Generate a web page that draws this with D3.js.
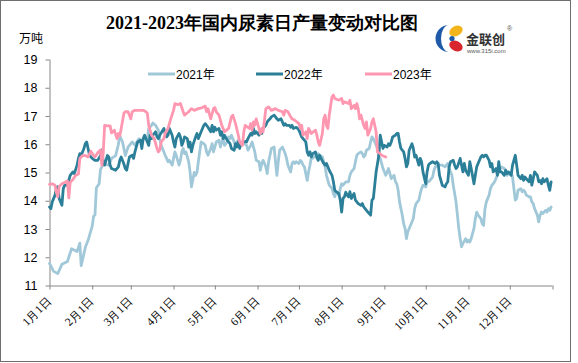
<!DOCTYPE html>
<html>
<head>
<meta charset="utf-8">
<script src="https://cdn.jsdelivr.net/npm/d3@7"></script>
<style>
  body { margin: 0; background: #fff; }
  svg { display: block; }
</style>
</head>
<body>
<div id="chart"></div>
<script>

// day of year (0 = 1月1日) and daily output, 万吨
const days2021 = [0,3,6,9,13,16,20,22,23,26,28,31,32,33,34,36,37,39,43,45,48,50,51,53,55,57,60,62,65,67,69,71,72,74,75,77,79,80,81,83,84,85,86,87,89,90,91,92,94,95,96,97,98,99,101,102,103,105,106,107,108,109,110,112,113,114,115,117,118,119,120,121,123,124,125,126,127,129,130,131,132,134,135,136,137,138,139,141,142,143,144,146,147,148,149,150,152,153,154,155,157,158,159,160,161,163,164,165,166,167,169,170,171,172,173,175,176,177,178,179,181,182,183,184,185,187,188,189,190,191,193,194,195,196,198,199,200,201,202,203,205,206,207,208,210,211,212,213,215,217,218,219,221,222,223,224,226,227,228,229,230,232,233,234,235,236,238,239,240,241,242,244,245,246,247,248,250,251,252,253,254,256,257,258,259,260,262,263,264,265,266,268,269,270,271,273,274,275,276,278,279,280,282,285,287,289,290,292,293,295,296,297,298,299,300,302,303,304,305,306,308,309,310,311,313,314,315,316,317,319,320,321,322,323,325,326,327,328,330,331,332,333,335,336,337,338,339,340,342,343,344,345,346,348,349,350,351,352,354,355,356,357,358,360,361,362,363,364];
const vals2021 = [11.78,11.5,11.42,11.75,11.85,12.3,12.2,12.5,11.7,12.35,12.6,13.1,13.45,13.5,14.45,14.6,15.1,15.3,15.26,15.5,15.6,16.0,16.3,16.08,15.6,15.9,16.08,15.97,16.2,16.08,16.26,16.2,16.55,16.67,16.75,16.67,16.5,16.2,15.96,15.73,15.6,15.5,15.38,15.43,15.26,15.5,15.73,15.6,15.26,15.43,15.73,15.85,15.67,15.73,15.38,15.02,14.49,15.0,14.9,15.0,15.38,15.73,16.08,16.02,15.96,15.73,15.61,15.85,16.02,15.73,15.9,16.08,16.14,15.9,16.08,16.2,15.96,16.08,16.26,16.2,16.32,16.08,15.9,16.08,16.14,15.96,16.08,16.02,16.0,15.96,15.79,15.96,16.08,15.9,15.73,15.43,15.38,15.08,15.32,15.43,15.2,14.96,15.38,15.61,15.85,15.9,15.38,14.9,15.38,15.79,15.9,15.79,15.67,15.5,15.26,15.02,15.32,15.38,15.32,15.38,15.32,15.43,15.38,15.26,15.2,14.72,15.02,15.26,15.55,15.5,15.61,15.5,15.67,15.61,15.55,15.38,15.2,14.9,14.72,14.55,14.43,14.25,14.14,14.32,14.2,14.43,14.6,14.55,14.67,14.67,14.9,15.02,15.14,15.38,15.61,15.67,15.73,15.67,15.55,15.61,15.79,15.85,16.08,16.26,16.2,16.08,15.85,15.55,15.5,15.32,15.14,14.9,15.02,15.14,14.96,14.78,14.9,14.67,14.6,14.37,13.96,13.49,13.19,13.02,12.66,12.9,13.13,13.25,13.37,13.72,13.9,14.02,14.25,14.43,14.55,14.49,14.67,14.67,14.72,14.84,15.08,15.2,15.26,15.26,15.2,15.32,15.14,14.9,14.55,13.96,13.49,13.02,12.66,12.37,12.49,12.66,12.54,12.6,12.54,12.66,13.02,13.37,13.6,13.49,13.37,13.19,13.13,13.72,13.96,14.2,14.43,14.55,14.6,14.67,14.9,15.02,15.14,15.2,15.14,15.08,14.9,14.96,15.02,14.84,14.43,14.02,14.08,14.37,14.43,14.32,14.37,14.32,14.2,14.14,14.14,13.96,13.9,13.72,13.49,13.25,13.49,13.6,13.55,13.66,13.6,13.72,13.66,13.78];

const days2022 = [0,1,2,4,5,6,7,9,10,11,13,15,17,18,20,21,22,23,25,26,27,28,29,31,33,35,37,38,39,40,42,43,44,45,48,50,51,52,54,55,56,57,58,60,61,62,64,66,67,68,69,71,72,73,74,75,77,78,79,80,83,84,85,86,87,89,90,91,92,94,95,96,97,98,100,101,102,103,104,106,107,108,109,110,112,113,114,115,117,118,119,120,121,123,124,125,126,127,129,130,131,132,134,135,136,137,138,139,141,142,143,144,146,147,148,149,150,152,153,154,155,157,158,159,160,161,163,164,165,166,168,169,170,171,172,174,175,176,177,179,180,181,182,183,184,186,187,188,189,190,191,193,194,195,196,197,199,200,201,202,203,205,206,207,208,210,211,212,213,214,215,216,217,218,219,221,222,223,224,226,227,228,229,230,231,233,234,235,236,237,239,240,241,242,243,245,246,247,248,249,251,252,253,254,255,257,258,259,260,261,263,264,265,266,268,269,270,271,273,274,275,276,278,280,281,282,283,285,287,288,289,290,291,293,294,295,296,298,299,300,301,302,304,305,306,308,309,310,311,313,314,315,316,317,319,320,321,322,324,325,326,327,328,330,331,332,333,335,336,338,339,340,342,343,344,345,346,348,349,350,351,352,354,355,356,357,358,359,361,362,363,364];
const vals2022 = [13.78,13.72,13.96,14.2,14.43,14.5,14.08,13.84,14.43,14.55,14.55,14.9,15.02,14.96,15.26,15.5,15.67,15.61,15.85,16.02,16.08,15.85,15.61,15.5,15.43,15.43,15.6,15.8,15.38,15.26,15.6,15.55,15.26,15.14,15.08,15.2,15.43,15.55,15.3,15.14,15.08,15.32,15.55,15.61,15.5,15.73,16.08,16.14,15.85,16.2,16.32,16.08,15.96,16.32,16.2,16.32,16.44,16.26,16.2,16.32,16.56,16.38,16.26,16.32,16.56,16.32,16.08,15.9,16.2,16.38,16.26,15.96,16.08,16.26,16.2,15.9,16.08,15.73,15.96,16.26,16.38,16.2,16.32,16.44,16.67,16.73,16.67,16.6,16.44,16.67,16.44,16.6,16.5,16.56,16.32,16.44,16.2,16.32,16.14,16.08,16.02,15.85,15.79,16.02,15.9,16.08,15.85,16.02,16.08,16.1,16.08,16.2,16.38,16.32,16.56,16.38,16.44,16.32,16.5,16.38,16.56,16.67,16.79,16.85,16.9,16.97,17.03,16.97,16.9,16.85,16.9,16.79,16.67,16.73,16.67,16.67,16.6,16.67,16.56,16.6,16.56,16.5,16.38,16.26,16.2,16.08,15.73,15.61,15.73,15.55,15.67,15.73,15.55,15.43,15.61,15.5,15.32,15.26,15.32,15.2,15.08,14.9,14.67,14.37,14.32,14.25,14.02,13.6,14.08,14.14,14.3,14.2,14.14,14.32,14.08,14.26,14.02,13.96,13.9,13.84,13.9,13.78,13.72,13.66,13.6,13.49,14.02,14.08,14.55,15.02,15.61,16.32,16.08,15.85,15.96,15.9,16.02,15.96,16.08,16.26,16.32,16.38,16.38,16.08,15.85,15.73,15.5,15.2,15.32,15.79,16.02,15.85,15.55,15.61,15.26,15.5,15.38,15.02,14.6,15.02,15.26,15.32,15.38,15.32,15.38,15.32,14.9,14.55,14.49,14.6,14.67,15.2,15.38,15.43,15.26,15.14,15.2,15.5,15.26,15.02,15.32,15.08,14.9,15.38,15.14,14.6,14.9,15.2,15.32,15.55,15.61,15.55,15.61,15.61,15.43,15.2,15.32,15.02,15.14,14.9,15.38,15.02,15.02,14.9,15.08,14.96,15.02,14.9,15.26,15.61,15.26,14.9,14.78,14.9,14.72,14.84,14.78,14.67,14.9,14.55,14.78,15.02,14.9,14.67,14.72,14.6,14.78,14.67,14.78,14.55,14.37,14.67];

const days2023 = [0,2,4,5,6,7,9,11,13,14,15,17,19,21,22,24,26,28,30,32,33,35,37,38,39,40,42,44,45,47,48,49,50,51,52,54,55,57,59,60,62,65,68,70,71,72,74,76,78,79,80,81,83,84,86,88,90,91,93,95,97,98,101,103,105,108,111,113,114,115,117,119,120,121,123,124,125,127,130,132,133,135,137,138,140,141,142,145,146,147,148,149,150,152,153,154,155,157,159,161,164,166,169,170,171,173,175,176,178,181,182,183,184,186,187,188,190,193,194,195,196,198,199,200,201,202,203,205,206,207,210,212,213,214,217,218,219,221,222,223,224,225,226,228,229,230,231,233,234,235,237,238,240,241,244];
const vals2023 = [14.58,14.6,14.55,14.3,14.14,14.5,14.6,14.65,14.7,14.1,14.65,14.75,14.9,14.95,15.5,15.6,15.6,15.55,15.75,15.6,15.55,15.7,15.8,15.25,15.7,16.67,16.65,16.65,16.4,16.5,16.35,16.2,16.38,16.3,16.55,17.1,17.15,17.15,16.9,17.15,17.2,17.2,17.2,17.15,17.1,16.67,16.32,16.2,15.85,15.73,15.8,16.08,16.2,16.4,16.56,16.9,17.2,17.44,17.4,17.44,17.15,17.03,17.15,17.26,17.2,17.26,17.3,17.35,17.15,17.26,16.9,17.26,17.3,17.15,17.03,16.85,16.67,16.44,16.56,16.97,17.03,16.73,16.32,16.08,15.96,16.44,16.67,16.56,16.73,16.5,16.79,16.67,16.9,16.56,16.38,16.56,16.44,17.26,17.32,17.2,17.26,17.2,17.15,17.03,17.2,17.15,16.97,16.9,16.85,16.73,16.56,16.67,16.32,16.44,16.2,16.56,16.38,16.5,16.32,16.08,15.96,16.38,16.9,17.03,16.67,16.56,17.03,17.68,17.74,17.62,17.56,17.62,17.44,17.5,17.44,17.56,17.26,17.38,17.26,17.44,17.26,16.9,17.03,16.67,16.56,16.79,16.32,16.56,16.79,16.9,16.44,15.73,15.67,15.61,15.55];

const seriesNames = ['2021年', '2022年', '2023年'];
const monthTicks = [0, 31, 59, 90, 120, 151, 181, 212, 243, 273, 304, 334, 365];
const monthLabels = ['1月1日','2月1日','3月1日','4月1日','5月1日','6月1日','7月1日','8月1日','9月1日','10月1日','11月1日','12月1日'];
const yTicks = [11, 12, 13, 14, 15, 16, 17, 18, 19];

const colors = ['#a0c8d8', '#2c7f98', '#ff97b0'];

const width = 578;
const height = 363;

const svg = d3.select('#chart')
    .append('svg')
    .attr('width', width)
    .attr('height', height);

svg.append('rect')
    .attr('x', 0.5).attr('y', 0.5)
    .attr('width', 570).attr('height', 361)
    .attr('fill', '#fff')
    .attr('stroke', '#6e6e6e');

const x = d3.scaleLinear().domain([0, 365]).range([49.5, 552.5]);
const y = d3.scaleLinear().domain([11, 19]).range([285.5, 59.5]);

// title + unit
svg.append('text')
    .attr('x', 262).attr('y', 29)
    .attr('text-anchor', 'middle')
    .style('font-family', "'Liberation Serif', serif")
    .style('font-weight', 'bold')
    .style('font-size', '18px')
    .text('2021-2023年国内尿素日产量变动对比图');

svg.append('text')
    .attr('x', 19).attr('y', 43)
    .style('font-family', "'Noto Sans CJK SC', sans-serif")
    .style('font-size', '12px')
    .text('万吨');

// axes
const yAxis = svg.append('g')
    .attr('transform', 'translate(49.5,0)')
    .call(d3.axisLeft(y).tickValues(yTicks).tickSize(4).tickPadding(8).tickFormat(d3.format('d')));

const xAxis = svg.append('g')
    .attr('transform', 'translate(0,285.5)')
    .call(d3.axisBottom(x).tickValues(monthTicks).tickSize(4).tickFormat((d, i) => monthLabels[i] || ''));

yAxis.select('.domain').attr('d', 'M0.5,59.5V285.5');
xAxis.select('.domain').attr('d', 'M49.5,0.5H552.5');

svg.selectAll('.domain, .tick line').attr('stroke', '#868686');

yAxis.selectAll('text')
    .style('font-family', "'Liberation Sans', sans-serif")
    .style('font-size', '12.5px')
    .attr('fill', '#000');

xAxis.selectAll('text')
    .attr('x', 0).attr('y', 0).attr('dy', 0)
    .attr('transform', 'translate(2,16) rotate(-45)')
    .style('text-anchor', 'end')
    .style('font-family', "'Liberation Serif', serif")
    .style('font-size', '11.5px')
    .attr('fill', '#000');

// lines
const series = [
    { days: days2021, vals: vals2021 },
    { days: days2022, vals: vals2022 },
    { days: days2023, vals: vals2023 }
];

const line = d3.line()
    .x((d) => x(d[0]))
    .y((d) => y(d[1]));

const lines = svg.append('g');

lines.selectAll('path')
    .data(series)
    .join('path')
    .attr('d', (s) => line(d3.zip(s.days, s.vals)))
    .attr('fill', 'none')
    .attr('stroke', (s, i) => colors[i])
    .attr('stroke-width', 2.8)
    .attr('stroke-linejoin', 'round')
    .attr('stroke-linecap', 'round');

// legend
const legendX = [148, 256, 365];
const legend = svg.append('g')
    .selectAll('g')
    .data(seriesNames)
    .join('g')
    .attr('transform', (d, i) => `translate(${legendX[i]},74)`);

legend.append('line')
    .attr('x1', 0).attr('x2', 27)
    .attr('stroke', (d, i) => colors[i])
    .attr('stroke-width', 3);

legend.append('text')
    .attr('x', 28).attr('y', 4.5)
    .style('font-family', "'Liberation Sans', 'Noto Sans CJK SC', sans-serif")
    .style('font-size', '12px')
    .text((d) => d);

// logo
const logo = svg.append('g');
logo.append('path')
    .attr('d', 'M449,25 A13.5,13.5 0 0 0 449,52 A8,13.5 0 0 1 449,25 Z')
    .attr('fill', '#1e5aa8');
logo.append('ellipse')
    .attr('cx', 456).attr('cy', 31).attr('rx', 7).attr('ry', 5)
    .attr('transform', 'rotate(-25,456,31)')
    .attr('fill', '#f3b51b');
logo.append('ellipse')
    .attr('cx', 456).attr('cy', 46).attr('rx', 7).attr('ry', 5)
    .attr('transform', 'rotate(25,456,46)')
    .attr('fill', '#d9262e');
logo.append('circle')
    .attr('cx', 452).attr('cy', 38.5).attr('r', 2.6)
    .attr('fill', '#1e5aa8');
logo.append('text')
    .attr('x', 466).attr('y', 44)
    .style('font-family', "'Noto Sans CJK SC', sans-serif")
    .style('font-size', '13px')
    .style('font-weight', 'bold')
    .attr('fill', '#333')
    .text('金联创');
logo.append('text')
    .attr('x', 507).attr('y', 31)
    .style('font-family', "'Liberation Sans', sans-serif")
    .style('font-size', '7px')
    .attr('fill', '#555')
    .text('®');
logo.append('text')
    .attr('x', 467).attr('y', 53)
    .style('font-family', "'Liberation Sans', sans-serif")
    .style('font-size', '6px')
    .attr('fill', '#555')
    .text('www.315i.com');

</script>
</body>
</html>
